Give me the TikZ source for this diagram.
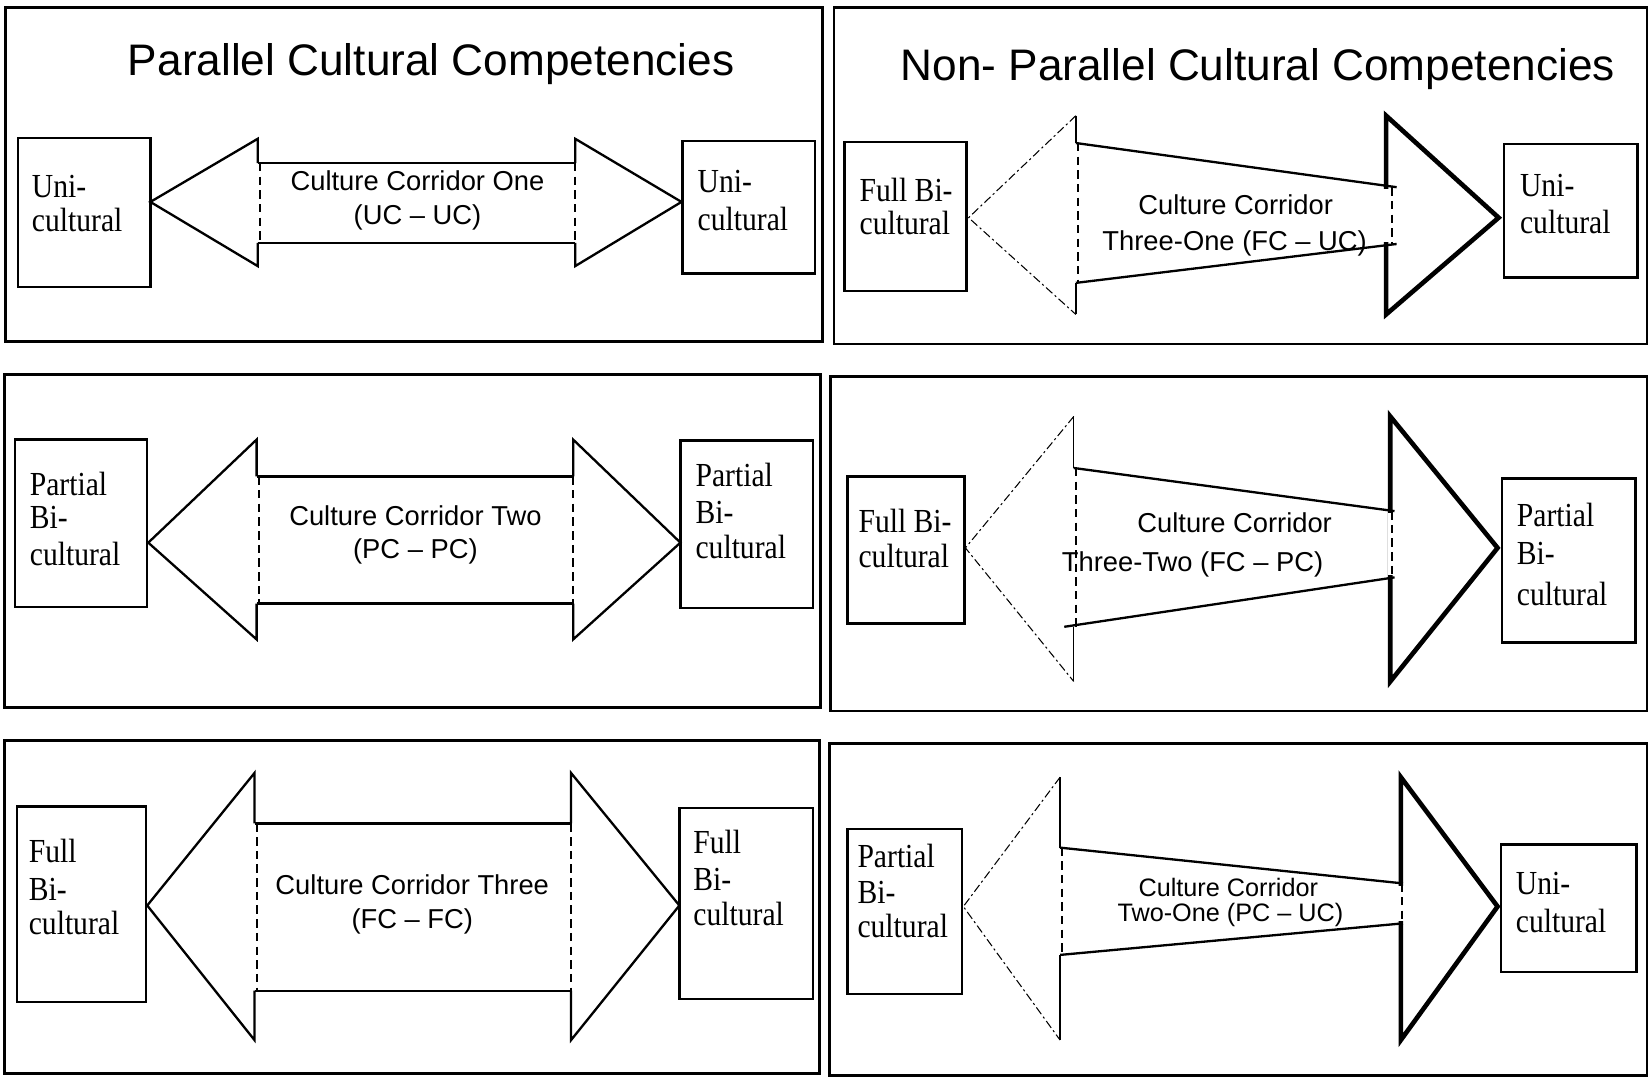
\documentclass[tikz,border=0pt]{standalone}
\usepackage{fontspec}
\setmainfont{Liberation Serif}
\newfontfamily\sansf[Ligatures=TeX]{Liberation Sans}
\newfontfamily\boxf[FakeStretch=0.88]{Liberation Serif}
\begin{document}
\begin{tikzpicture}[x=0.5pt,y=-0.5pt,
  panel/.style={draw=black,line width=1.3pt},
  boxline/.style={draw=black,line width=1.1pt},
  arrline/.style={draw=black,line width=1.1pt,line join=miter},
  thickhead/.style={draw=black,line width=2.2pt,line join=miter},
  thinhead/.style={draw=black,line width=0.5pt,dash pattern=on 4pt off 1.5pt on 1pt off 1.5pt},
  thinbase/.style={draw=black,line width=0.7pt},
  dashv/.style={draw=black,line width=1pt,dash pattern=on 4pt off 2.5pt},
  title/.style={font=\sansf\fontsize{21}{25}\selectfont,anchor=base},
  corr/.style={font=\sansf\fontsize{13}{15}\selectfont,anchor=base},
  corrs/.style={font=\sansf\fontsize{12}{14}\selectfont,anchor=base},
  btxt/.style={font=\boxf\fontsize{16}{18}\selectfont,anchor=base west,inner sep=0pt}]
\useasboundingbox[fill=white] (0,0) rectangle (1568,1027);

% ---------- panels ----------
\draw[panel] (5,7) rectangle (782,325);
\draw[panel] (793,7) rectangle (1566,327);
\draw[panel] (4,356) rectangle (780,673);
\draw[panel] (790,358) rectangle (1566,676);
\draw[panel] (4,704) rectangle (779,1021);
\draw[panel] (789,707) rectangle (1566,1023);

% ---------- titles ----------
\node[title] (t1) at (410,72) {Parallel Cultural Competencies};
\node[title] (t2) at (1196,77) {Non- Parallel Cultural Competencies};

% ---------- boxes ----------
\draw[boxline] (17,131) rectangle (143,273);
\draw[boxline] (649,134) rectangle (775,260);
\draw[boxline] (803,135) rectangle (919,277);
\draw[boxline] (1430,137) rectangle (1557,264);
\draw[boxline] (14,418) rectangle (140,577);
\draw[boxline] (647,419) rectangle (773,578);
\draw[boxline] (806,453) rectangle (917,593);
\draw[boxline] (1428,455) rectangle (1555,611);
\draw[boxline] (16,767) rectangle (139,953);
\draw[boxline] (646,768) rectangle (773,950);
\draw[boxline] (806,788) rectangle (915,945);
\draw[boxline] (1427,803) rectangle (1556,924);

% ---------- box texts ----------
\node[btxt] (a1) at (30,188) {Uni-};
\node[btxt] (a2) at (30,220) {cultural};
\node[btxt] (b1) at (663,183) {Uni-};
\node[btxt] (b2) at (663,219) {cultural};
\node[btxt] (c1) at (817,192) {Full Bi-};
\node[btxt] (c2) at (817,223) {cultural};
\node[btxt] (d1) at (1445,187) {Uni-};
\node[btxt] (d2) at (1445,222) {cultural};
\node[btxt] (e1) at (28,471) {Partial};
\node[btxt] (e2) at (28,503) {Bi-};
\node[btxt] (e3) at (28,538) {cultural};
\node[btxt] (f1) at (661,463) {Partial};
\node[btxt] (f2) at (661,498) {Bi-};
\node[btxt] (f3) at (661,531) {cultural};
\node[btxt] (g1) at (816,506) {Full Bi-};
\node[btxt] (g2) at (816,540) {cultural};
\node[btxt] (h1) at (1442,501) {Partial};
\node[btxt] (h2) at (1442,537) {Bi-};
\node[btxt] (h3) at (1442,576) {cultural};
\node[btxt] (i1) at (27,820) {Full};
\node[btxt] (i2) at (27,856) {Bi-};
\node[btxt] (i3) at (27,889) {cultural};
\node[btxt] (j1) at (659,812) {Full};
\node[btxt] (j2) at (659,847) {Bi-};
\node[btxt] (j3) at (659,880) {cultural};
\node[btxt] (k1) at (815,825) {Partial};
\node[btxt] (k2) at (815,859) {Bi-};
\node[btxt] (k3) at (815,891) {cultural};
\node[btxt] (l1) at (1441,851) {Uni-};
\node[btxt] (l2) at (1441,887) {cultural};

% ---------- parallel double arrows (left column) ----------
\newcommand{\pararrow}[9]{%
  \draw[arrline] (#1,#6) -- (#1,#2) -- (#4,#5) -- (#1,#3) -- (#1,#7);
  \draw[arrline] (#1,#6) -- (#8,#6);
  \draw[arrline] (#1,#7) -- (#8,#7);
  \draw[arrline] (#8,#6) -- (#8,#2) -- (#9,#5) -- (#8,#3) -- (#8,#7);
  \draw[dashv] (#1+2,#6) -- (#1+2,#7);
  \draw[dashv] (#8,#6) -- (#8,#7);}
\pararrow{245}{132}{253}{143}{192}{155}{231}{547}{648}
\pararrow{244}{418}{608}{141}{516}{453}{574}{545}{647}
\pararrow{242}{735}{989}{140}{861}{783}{942}{543}{646}

\node[corr] (m1) at (397,181) {Culture Corridor One};
\node[corr] (m2) at (397,213) {(UC – UC)};
\node[corr] (n1) at (395,500) {Culture Corridor Two};
\node[corr] (n2) at (395,531) {(PC – PC)};
\node[corr] (o1) at (392,851) {Culture Corridor Three};
\node[corr] (o2) at (392,883) {(FC – FC)};

% ---------- non-parallel arrows (right column) ----------
\newcommand{\nparrow}[9]{%
  \draw[thinhead] (#1,#2) -- (#4,#5) -- (#1,#3);
  \draw[thinbase] (#1,#2) -- (#1,#6);
  \draw[thinbase] (#1,#7) -- (#1,#3);
  \draw[dashv] (#1+2,#6) -- (#1+2,#7);
  \draw[thickhead] (#8,#2) -- (#9,#5) -- (#8,#3) -- cycle;}
% top-right
\nparrow{1023}{110}{299}{921}{207}{136}{269}{1318}{1425}
\draw[arrline] (1023,136) -- (1328,178);
\draw[arrline] (1023,269) -- (1328,232);
\draw[draw=white,line width=2.6pt] (1318,180) -- (1318,230);
\draw[dashv] (1324,178) -- (1324,232);
% middle-right
\nparrow{1021}{396}{648}{918}{521}{445}{596}{1322}{1424}
\draw[arrline] (1021,445) -- (1326,486);
\draw[arrline] (1012,596) -- (1326,549);
\draw[draw=white,line width=2.6pt] (1322,488) -- (1322,547);
\draw[dashv] (1324,486) -- (1324,549);
% bottom-right
\nparrow{1008}{739}{989}{916}{862}{806}{908}{1332}{1424}
\draw[arrline] (1008,806) -- (1334,840);
\draw[arrline] (1008,908) -- (1334,878);
\draw[draw=white,line width=2.6pt] (1332,842) -- (1332,876);
\draw[dashv] (1333,840) -- (1333,878);

\node[corr] (p1) at (1175,204) {Culture Corridor};
\node[corr] (p2) at (1174,238) {Three-One (FC – UC)};
\node[corr] (q1) at (1174,506) {Culture Corridor};
\node[corr] (q2) at (1134,543) {Three-Two (FC – PC)};
\node[corrs] (r1) at (1168,852) {Culture Corridor};
\node[corrs] (r2) at (1170,876) {Two-One (PC – UC)};
\end{tikzpicture}
\end{document}
